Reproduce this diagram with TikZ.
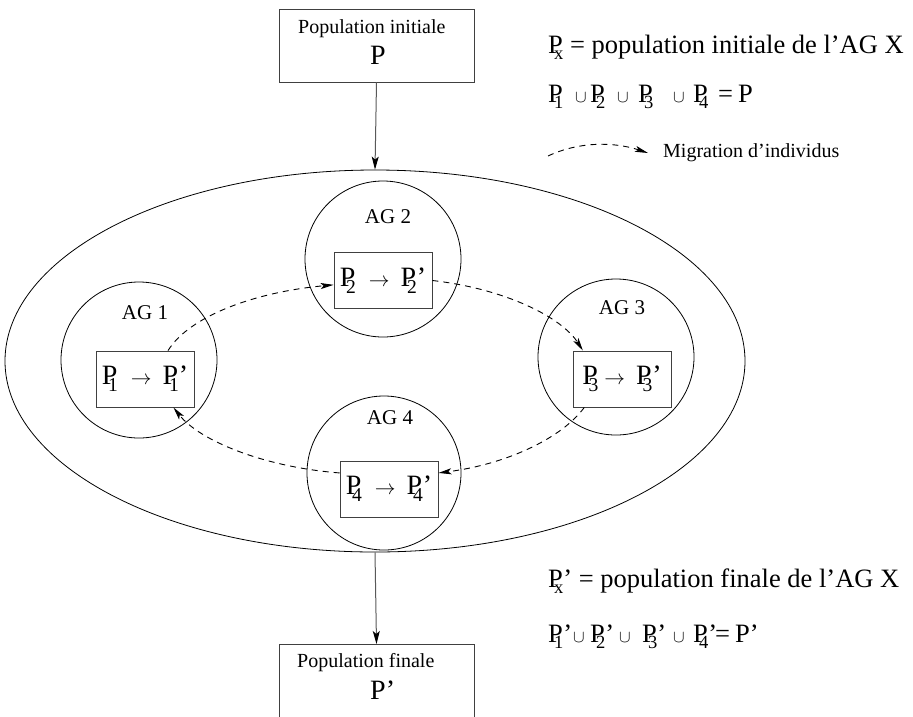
\documentclass[tikz,border=0pt]{standalone}
\usepackage{fontspec}
\usepackage{graphicx}
\setmainfont{Liberation Serif}
\usetikzlibrary{shapes.geometric,arrows.meta}
\newcommand\Psb[2]{P\kern-0.33em\raisebox{-0.24em}{\scalebox{0.7}{#1}}#2}
\newcommand\cupsym{{\fontsize{18}{18}\selectfont$\cup$}}
\begin{document}
\begin{tikzpicture}[x=1pt,y=-1pt,
  box/.style={draw=black!75, line width=0.9pt, fill=white, rectangle, inner sep=0pt},
  ring/.style={draw=black, line width=0.8pt, circle, inner sep=0pt, minimum size=156pt},
  flow/.style={draw=black!65, line width=1pt, -{Stealth[length=13pt,width=7pt,inset=3pt,color=black]}},
  mig/.style={line width=0.9pt, dash pattern=on 6pt off 5pt, -{Stealth[length=13pt,width=6pt,inset=3pt]}},
  lab/.style={font=\fontsize{20}{24}\selectfont, inner sep=0pt},
  big/.style={font=\fontsize{28}{32}\selectfont, inner sep=0pt},
  leg/.style={font=\fontsize{26.5}{30}\selectfont, inner sep=0pt},
  ag/.style={font=\fontsize{21}{24}\selectfont, inner sep=0pt},
  pp/.style={box, minimum width=98pt, minimum height=56pt, font=\fontsize{28}{32}\selectfont}]
\useasboundingbox (0,0) rectangle (913,716);
% top and bottom boxes
\node[box, minimum width=195pt, minimum height=73pt] (top) at (376.5,45.5) {};
\node[lab, anchor=west] (topt) at (298,29) {Population initiale};
\node[big] (topp) at (378,55) {P};
\node[box, minimum width=195pt, minimum height=100pt, anchor=north] (bot) at (376.5,644) {};
\node[lab, anchor=west] (bott) at (297,663) {Population finale};
\node[big, anchor=west] (botp) at (370,690) {P’};
% ellipse
\node[draw, ellipse, line width=0.8pt, inner sep=0pt, minimum width=740pt, minimum height=382pt] (ell) at (375,361) {};
\draw[flow] (top.south) -- (ell.north);
\draw[flow] (ell.south) -- (bot.north);
% circles
\node[ring] (c1) at (139,360) {};
\node[ring] (c2) at (383,259) {};
\node[ring] (c3) at (616,357) {};
\node[ring, minimum size=154pt] (c4) at (384,473) {};
\node[ag] (a1) at (145,313) {AG 1};
\node[ag] (a2) at (388,217) {AG 2};
\node[ag] (a3) at (622,308) {AG 3};
\node[ag] (a4) at (390,418) {AG 4};
% boxes
\node[pp] (b1) at (145,379) {\Psb{1}{}\hspace{13pt}{\fontsize{20}{20}\selectfont$\rightarrow$}\hspace{11pt}\Psb{1}{’}};
\node[pp] (b2) at (383,280.5) {\Psb{2}{}\hspace{13pt}{\fontsize{20}{20}\selectfont$\rightarrow$}\hspace{11pt}\Psb{2}{’}};
\node[pp] (b3) at (622,379) {\Psb{3}{}\hspace{6pt}{\fontsize{20}{20}\selectfont$\rightarrow$}\hspace{11pt}\Psb{3}{’}};
\node[pp] (b4) at (389,489) {\Psb{4}{}\hspace{13pt}{\fontsize{20}{20}\selectfont$\rightarrow$}\hspace{11pt}\Psb{4}{’}};
% migrations
\draw[mig] (b1.51) .. controls +(21.5,-34.6) and +(-78.7,7.3) .. (b2.185);
\draw[mig] (b2.east) .. controls +(74.0,8.5) and +(-20.9,-32.8) .. (b3.144);
\draw[mig] (b3.217) .. controls +(-22.0,30.3) and +(68.6,-8.8) .. (b4.18);
\draw[mig] (b4.162) .. controls +(-76.6,-6.0) and +(25.7,32.8) .. (b1.315);
% legend
\node[leg, anchor=base west] (t1) at (548,53) {\Psb{x}{} = population initiale de l’AG X};
\node[leg, anchor=base west] (t2) at (548,102) {\makebox[27pt][l]{\Psb{1}{}}\makebox[15pt][l]{\cupsym}\makebox[27pt][l]{\Psb{2}{}}\makebox[21pt][l]{\cupsym}\makebox[35pt][l]{\Psb{3}{}}\makebox[20pt][l]{\cupsym}\makebox[25pt][l]{\Psb{4}{}}\makebox[20pt][l]{=}P};
\coordinate (lg1) at (548,156);
\coordinate (lg2) at (648,153);
\draw[mig] (lg1) .. controls (580,141) and (615,142) .. (lg2);
\node[lab, anchor=base west] (t3) at (663,157) {Migration d’individus};
\node[leg, anchor=base west] (t4) at (548,587) {\Psb{x}{’} = population finale de l’AG X};
\node[leg, anchor=base west] (t5) at (548,642) {\makebox[25pt][l]{\Psb{1}{’}}\makebox[17pt][l]{\cupsym}\makebox[29pt][l]{\Psb{2}{’}}\makebox[23pt][l]{\cupsym}\makebox[31pt][l]{\Psb{3}{’}}\makebox[20pt][l]{\cupsym}\makebox[22pt][l]{\Psb{4}{’}}\makebox[20pt][l]{=}P’};
\end{tikzpicture}
\end{document}
